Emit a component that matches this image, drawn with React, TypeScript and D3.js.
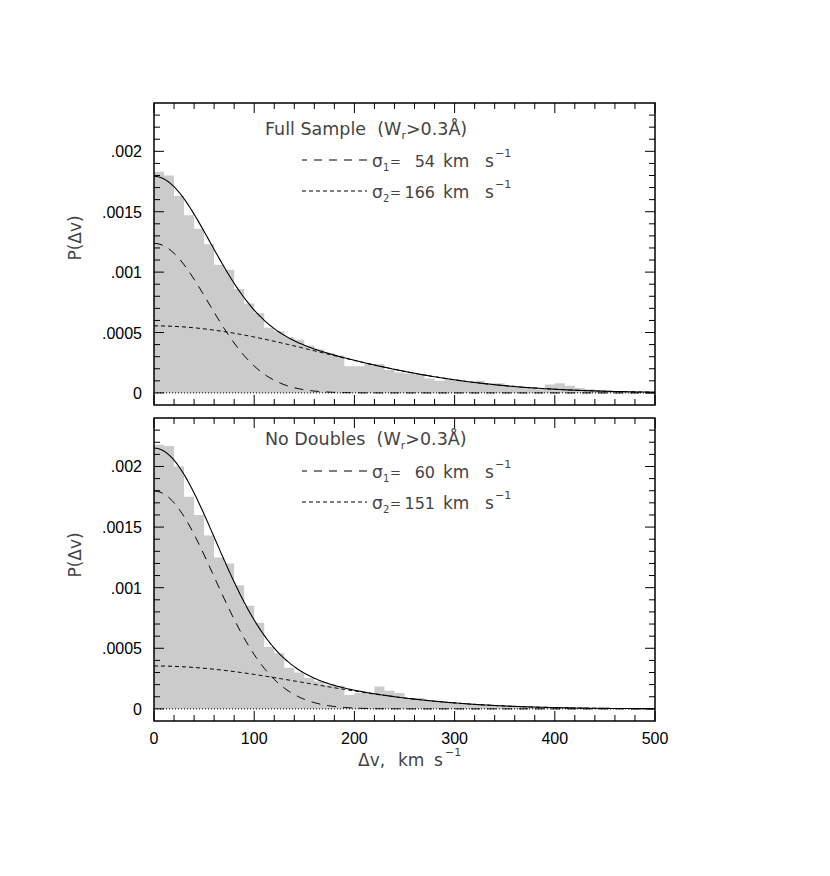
import React from "react";
import * as d3 from "d3";

// ---------- data ----------
const binEdgesStart = d3.range(0, 500, 10); // bin lower edges, km/s

const fullSample = [
  0.00183, 0.0018, 0.00163, 0.00147, 0.00136, 0.00123, 0.00106, 0.00102, 0.00086, 0.00074,
  0.00066, 0.00054, 0.00051, 0.00046, 0.00044, 0.00039, 0.00036, 0.00033, 0.00031, 0.00022,
  0.00022, 0.00024, 0.00024, 0.00019, 0.00017, 0.00016, 0.00015, 0.00012, 0.0001, 0.00011,
  0.0001, 0.00009, 0.0001, 0.00008, 0.00008, 0.00006, 0.00005, 0.00004, 0.00003, 0.00007,
  0.00008, 0.00006, 0.00004, 0.00003, 0.00002, 0.000015, 0.00001, 0.000008, 0.000005, 0.000005,
];

const noDoubles = [
  0.00218, 0.00217, 0.002, 0.00175, 0.0016, 0.00143, 0.00125, 0.0012, 0.00102, 0.00085,
  0.00071, 0.00051, 0.00046, 0.00034, 0.0003, 0.000255, 0.000225, 0.0002, 0.00019, 0.000115,
  0.00013, 0.00013, 0.000185, 0.00015, 0.00013, 0.00009, 0.00009, 0.00007, 0.00006, 0.00005,
  0.00004, 0.00004, 0.00004, 0.00003, 0.00003, 0.000025, 0.00002, 0.000017, 0.000014, 0.000014,
  0.000014, 0.000011, 0.000008, 0.000006, 0.000005, 0.000004, 0.000004, 0.000003, 0.000003, 0.000002,
];

// Gaussian components: sigma (km/s) and peak amplitude
const fullSigmas = [54, 166];
const fullAmps = [0.001238, 0.000555];
const noDblSigmas = [60, 151];
const noDblAmps = [0.001798, 0.000354];

const panelTitles = ["Full Sample", "No Doubles"];
const sigmaNumbers = [
  ["54", "166"],
  ["60", "151"],
];

const xTicksMajor = [0, 100, 200, 300, 400, 500];
const yTickLabels = ["0", ".0005", ".001", ".0015", ".002"];
const yTickValues = [0, 0.0005, 0.001, 0.0015, 0.002];

// ---------- layout ----------
const X0 = 154;
const X1 = 655;
const x = d3.scaleLinear().domain([0, 500]).range([X0, X1]);

const panels = [
  { top: 103, bottom: 405, hist: fullSample, sig: fullSigmas, amp: fullAmps,
    titleY: 135, row1: 160, row2: 191, ylab: 238 },
  { top: 418, bottom: 721, hist: noDoubles, sig: noDblSigmas, amp: noDblAmps,
    titleY: 445, row1: 471, row2: 502, ylab: 555 },
];

const hershey = "'DejaVu Sans', sans-serif";
const helv = "'Liberation Sans', Arial, sans-serif";
const textFill = "#444";

function gauss(v: number, a: number, s: number) {
  return a * Math.exp(-(v * v) / (2 * s * s));
}

function Panel({ p, idx, showXLabels }: any) {
  const y = d3.scaleLinear().domain([-0.0001, 0.0024]).range([p.bottom, p.top]);
  const vs = d3.range(0, 500.01, 2);
  const mk = (f: (v: number) => number) =>
    d3
      .line<number>()
      .x((v) => x(v))
      .y((v) => y(f(v)))(vs) as string;
  const c1 = mk((v) => gauss(v, p.amp[0], p.sig[0]));
  const c2 = mk((v) => gauss(v, p.amp[1], p.sig[1]));
  const tot = mk((v) => gauss(v, p.amp[0], p.sig[0]) + gauss(v, p.amp[1], p.sig[1]));

  const histPts = binEdgesStart.map((b, i) => ({ v: b, h: p.hist[i] }));
  histPts.push({ v: 500, h: p.hist[p.hist.length - 1] });
  const histPath = d3
    .area<{ v: number; h: number }>()
    .x((d) => x(d.v))
    .y0(y(0))
    .y1((d) => y(d.h))
    .curve(d3.curveStepAfter)(histPts) as string;

  const xMinor = d3.range(0, 501, 20);
  const yMinor = d3.range(-1, 25, 1).map((k) => k * 0.0001);
  const major = 10;
  const minor = 6;

  return (
    <g>
      {/* histogram */}
      <path d={histPath} fill="#cbcbcb" stroke="none" />
      {/* zero line */}
      <line x1={X0} x2={X1} y1={y(0)} y2={y(0)} stroke="#000" strokeWidth={1} strokeDasharray="1,2" />
      {/* curves */}
      <path d={c1} fill="none" stroke="#000" strokeWidth={1} strokeDasharray="9,7" />
      <path d={c2} fill="none" stroke="#000" strokeWidth={1} strokeDasharray="4,3" />
      <path d={tot} fill="none" stroke="#000" strokeWidth={1.1} />

      {/* ticks x */}
      {xMinor.map((v) => {
        const len = v % 100 === 0 ? major : minor;
        return (
          <g key={"xt" + v}>
            <line x1={x(v)} x2={x(v)} y1={p.bottom} y2={p.bottom - len} stroke="#000" strokeWidth={1} />
            <line x1={x(v)} x2={x(v)} y1={p.top} y2={p.top + len} stroke="#000" strokeWidth={1} />
          </g>
        );
      })}
      {/* ticks y */}
      {yMinor.map((v, k) => {
        const isMajor = (k - 1) % 5 === 0;
        const len = isMajor ? major : minor;
        const yy = y(v);
        if (yy < p.top + 0.5 || yy > p.bottom - 0.5) return null;
        return (
          <g key={"yt" + k}>
            <line x1={X0} x2={X0 + len} y1={yy} y2={yy} stroke="#000" strokeWidth={1} />
            <line x1={X1} x2={X1 - len} y1={yy} y2={yy} stroke="#000" strokeWidth={1} />
          </g>
        );
      })}
      {/* frame */}
      <rect x={X0} y={p.top} width={X1 - X0} height={p.bottom - p.top} fill="none" stroke="#000" strokeWidth={1.5} />

      {/* y tick labels */}
      {yTickValues.map((v, i) => (
        <text key={"yl" + i} x={142} y={y(v) + 6} textAnchor="end" fontFamily={helv} fontSize={16} fill="#000">
          {yTickLabels[i]}
        </text>
      ))}
      {/* x tick labels */}
      {showXLabels &&
        xTicksMajor.map((v) => (
          <text key={"xl" + v} x={x(v)} y={744} textAnchor="middle" fontFamily={helv} fontSize={16} fill="#000">
            {v}
          </text>
        ))}

      {/* y label */}
      <text
        transform={`translate(81,${p.ylab}) rotate(-90)`}
        textAnchor="middle"
        fontFamily={hershey}
        fontSize={17}
        fill={textFill}
      >
        P(Δv)
      </text>

      {/* title */}
      <text x={265} y={p.titleY} fontFamily={hershey} fontSize={17.5} fill={textFill} style={{ whiteSpace: "pre" }}>
        {panelTitles[idx] + "  (W"}
        <tspan fontSize={11} dy={4}>r</tspan>
        <tspan dy={-4}>{">0.3Å)"}</tspan>
      </text>

      {/* legend */}
      {[0, 1].map((r) => {
        const ly = r === 0 ? p.row1 : p.row2;
        return (
          <g key={"lg" + r}>
            <line x1={302} x2={367} y1={ly} y2={ly} stroke="#000" strokeWidth={1}
              strokeDasharray={r === 0 ? "8,7" : "4,3"} strokeDashoffset={r === 0 ? 3 : 0} />
            <text x={372} y={ly + 7} fontFamily={hershey} fontSize={17} fill={textFill}>σ</text>
            <text x={383} y={ly + 11} fontFamily={hershey} fontSize={10} fill={textFill}>{r === 0 ? "1" : "2"}</text>
            <text x={390} y={ly + 6} fontFamily={hershey} fontSize={13} fill={textFill}>=</text>
            <text x={435} y={ly + 7} textAnchor="end" fontFamily={hershey} fontSize={16} fill={textFill}>
              {sigmaNumbers[idx][r]}
            </text>
            <text x={443} y={ly + 7} fontFamily={hershey} fontSize={17} fill={textFill}>km</text>
            <text x={485} y={ly + 7} fontFamily={hershey} fontSize={17} fill={textFill}>s</text>
            <text x={495} y={ly - 3} fontFamily={hershey} fontSize={11} fill={textFill}>−1</text>
          </g>
        );
      })}
    </g>
  );
}

export default function App() {
  return (
    <svg width={830} height={876} style={{ display: "block", margin: "-8px" }} viewBox="0 0 830 876">
      <rect width={830} height={876} fill="#fff" />
      {panels.map((p, i) => (
        <Panel key={i} p={p} idx={i} showXLabels={i === 1} />
      ))}
      {/* x axis title */}
      <text x={358} y={766} fontFamily={hershey} fontSize={17} fill={textFill}>Δv,</text>
      <text x={398} y={766} fontFamily={hershey} fontSize={17} fill={textFill}>km</text>
      <text x={434} y={766} fontFamily={hershey} fontSize={17} fill={textFill}>s</text>
      <text x={445} y={756} fontFamily={hershey} fontSize={11} fill={textFill}>−1</text>
    </svg>
  );
}
